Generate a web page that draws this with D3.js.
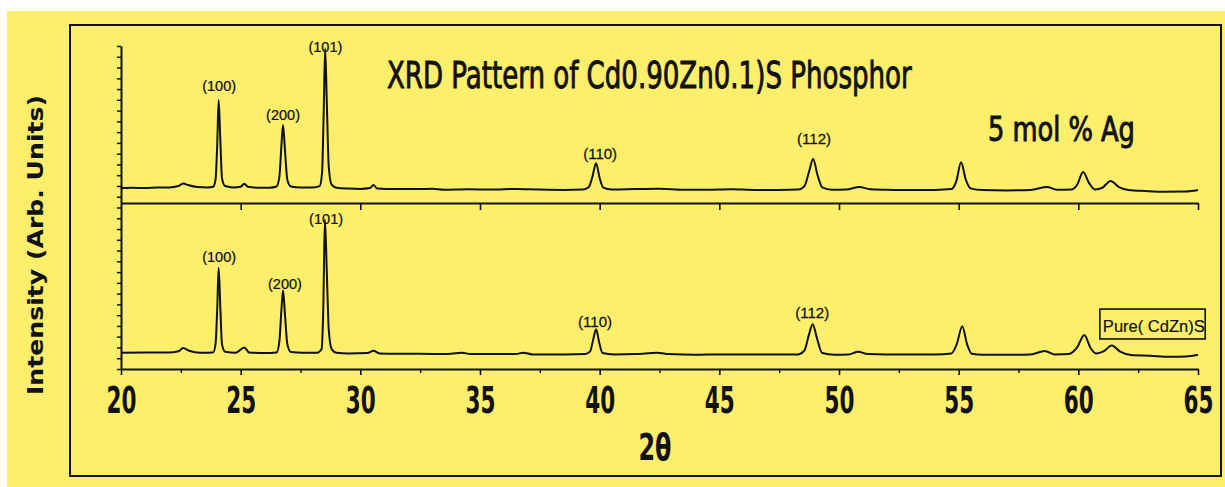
<!DOCTYPE html>
<html><head><meta charset="utf-8">
<script src="https://cdn.jsdelivr.net/npm/d3@7"></script>
<style>html,body{margin:0;padding:0;background:#fff;overflow:hidden}svg{display:block}</style>
</head><body>
<svg id="chart" width="1225" height="487"></svg>
<script>
// ---- data ----
const xTickValues = [20, 25, 30, 35, 40, 45, 50, 55, 60, 65];
const xMinorTickValues = [22.5, 27.5, 32.5, 37.5, 42.5, 47.5, 52.5, 57.5, 62.5];
const titleText = "XRD Pattern of Cd0.90Zn0.1)S Phosphor";
const agLabel = "5 mol % Ag";
const pureLabel = "Pure( CdZn)S";
const xLabel = "2\u03b8";
const yLabel = "Intensity (Arb. Units)";

// 5 mol % Ag doped pattern (top): [2theta, intensity]
const agPattern = [
[20.0,9.0],[20.5,9.2],[21.0,9.0],[21.5,9.3],[22.0,9.4],[22.4,10.2],[22.6,11.8],[22.8,10.8],[23.2,9.6],[23.6,9.4],
[23.85,9.8],[23.95,14],[24.02,35],[24.08,62],[24.15,38],[24.22,15],[24.35,10.2],[24.7,9.4],[25.0,9.8],[25.15,11.6],
[25.3,9.8],[25.8,9.2],[26.2,9.2],[26.5,9.9],[26.62,16],[26.7,34],[26.77,47],[26.85,32],[26.95,14],[27.1,9.9],
[27.5,9.3],[28.0,9.4],[28.3,10.2],[28.4,18],[28.47,55],[28.53,93],[28.6,60],[28.68,22],[28.8,11],[29.0,9.2],
[29.5,8.7],[30.0,8.5],[30.4,9.0],[30.55,10.8],[30.7,8.8],[31.5,8.4],[32.5,8.4],[33.0,8.6],[33.5,8.0],[34.5,8.3],
[35.5,8.1],[36.5,8.5],[37.5,8.1],[38.5,7.9],[39.3,8.1],[39.55,9.6],[39.7,16],[39.85,24],[40.0,15],[40.15,9.3],
[40.5,8.2],[41.5,8.4],[42.5,8.6],[43.5,8.0],[44.5,8.0],[45.5,8.3],[46.5,7.9],[47.5,7.9],[48.3,8.1],[48.55,10],
[48.75,19],[48.92,26.5],[49.1,17],[49.3,9.4],[49.7,8.0],[50.3,8.1],[50.85,9.6],[51.3,8.3],[52.0,8.0],[53.0,7.8],
[54.0,7.9],[54.7,8.4],[54.9,13],[55.1,24.5],[55.3,14],[55.5,8.8],[56.0,7.8],[57.0,7.6],[58.0,7.9],[58.7,9.6],
[59.1,8.0],[59.7,8.1],[59.95,11],[60.2,18.7],[60.45,12],[60.7,8.2],[61.0,9.2],[61.35,13.3],[61.7,9.6],[62.1,7.8],
[62.8,7.2],[63.5,6.8],[64.5,6.9],[65.0,7.8]
];

// Pure (CdZn)S pattern (bottom): [2theta, intensity]
const purePattern = [
[20.0,9.8],[21.0,9.9],[22.0,9.9],[22.4,10.7],[22.6,12.6],[22.85,11],[23.3,9.8],[23.85,10],[23.95,15],[24.02,36],
[24.08,61],[24.15,37],[24.22,15],[24.35,10.4],[24.8,9.8],[25.15,13],[25.35,10],[26.0,9.6],[26.5,10],[26.62,17],
[26.7,35],[26.77,47.5],[26.85,33],[26.95,15],[27.1,10.2],[27.6,9.8],[28.2,9.8],[28.38,12],[28.45,35],[28.52,90],
[28.6,58],[28.68,24],[28.8,12],[29.0,9.8],[29.5,9.4],[30.3,9.6],[30.55,11],[30.8,9.4],[31.5,9.2],[32.5,9.2],
[33.5,9.0],[34.25,9.8],[34.6,9.0],[35.5,9.0],[36.5,9.0],[36.8,9.8],[37.2,8.8],[38.5,8.8],[39.4,9.0],[39.6,10.6],
[39.72,17],[39.85,24],[39.98,16],[40.12,9.6],[40.6,8.8],[41.5,9.0],[42.4,9.8],[42.9,9.0],[44.0,8.6],[45.0,8.8],
[46.5,8.8],[47.5,8.8],[48.3,8.8],[48.55,11],[48.75,21],[48.9,27],[49.07,19],[49.3,9.6],[49.8,8.6],[50.4,8.8],
[50.8,10.4],[51.2,9.0],[52.0,8.8],[53.0,8.8],[54.0,8.8],[54.7,9.4],[54.92,15],[55.15,25.8],[55.35,15],[55.55,9.2],
[56.0,8.6],[57.0,8.6],[58.0,8.8],[58.6,10.8],[59.0,8.8],[59.6,9.0],[59.95,13],[60.25,20.5],[60.5,13],[60.75,9.4],
[61.05,10.6],[61.4,14.2],[61.75,10.4],[62.2,8.4],[63.0,8.0],[63.8,7.4],[64.5,7.6],[65.0,8.6]
];

// hkl labels: text, 2theta position, intensity of label baseline
const hklNames = ["(100)", "(200)", "(101)", "(110)", "(112)"];
const hklTopX = [24.10, 26.77, 28.54, 40.02, 48.96];
const hklTopY = [67.5, 50, 91, 26.5, 35.5];
const hklBottomX = [24.10, 26.85, 28.57, 39.81, 48.88];
const hklBottomY = [64.5, 48.2, 87.3, 25.3, 30.7];

// ---- drawing ----
const svg = d3.select("#chart");
const ink = "#111";
const narrow = "'Liberation Sans Narrow','DejaVu Sans Condensed','Liberation Sans',sans-serif";

svg.append("rect").attr("x",7).attr("y",11).attr("width",1218).attr("height",476).attr("fill","#fdee6b");
svg.append("rect").attr("x",70).attr("y",25).attr("width",1151).attr("height",451)
  .attr("fill","none").attr("stroke",ink).attr("stroke-width",2);

const x = d3.scaleLinear().domain([20,65]).range([121,1198]);
const yBottom = d3.scaleLinear().domain([0,100]).range([369,203]);
const yTop = d3.scaleLinear().domain([0,100]).range([203,37]);
const yAxisScale = d3.scaleLinear().domain([0,300]).range([369,46]);

// squeeze a text horizontally to a target width around its anchor
function squeeze(sel, w) {
  sel.each(function() {
    const n = this, L = n.getComputedTextLength();
    if (L > 0) {
      const s = w / L, ax = +n.getAttribute("x") || 0;
      d3.select(n).attr("transform", `translate(${ax},0) scale(${s},1) translate(${-ax},0)`);
    }
  });
}

// left axis with minor ticks
const gy = svg.append("g").attr("transform","translate(121,0)")
  .call(d3.axisLeft(yAxisScale).ticks(30).tickSize(4).tickFormat("").tickSizeOuter(0));
gy.select(".domain").attr("stroke",ink).attr("stroke-width",2);
gy.selectAll(".tick line").attr("stroke",ink).attr("stroke-width",1.5);

// bottom axis
const gx = svg.append("g").attr("transform","translate(0,369)")
  .call(d3.axisBottom(x).tickValues(xTickValues).tickSize(6).tickSizeOuter(0));
gx.select(".domain").attr("stroke",ink).attr("stroke-width",2);
gx.selectAll(".tick line").attr("stroke",ink).attr("stroke-width",1.6);
gx.selectAll(".tick text").attr("x",0).attr("y",44).attr("dy",0)
  .attr("font-family",narrow).attr("font-weight","bold").attr("font-size",38)
  .attr("fill",ink).call(squeeze, 30);
const gxm = svg.append("g").attr("transform","translate(0,369)")
  .call(d3.axisBottom(x).tickValues(xMinorTickValues).tickSize(4).tickFormat("").tickSizeOuter(0));
gxm.select(".domain").remove();
gxm.selectAll(".tick line").attr("stroke",ink).attr("stroke-width",1.4);

// divider axis
const gd = svg.append("g").attr("transform","translate(0,203)")
  .call(d3.axisBottom(x).tickValues(xTickValues.slice(1)).tickSize(7).tickFormat("").tickSizeOuter(0));
gd.select(".domain").attr("stroke",ink).attr("stroke-width",2);
gd.selectAll(".tick line").attr("stroke",ink).attr("stroke-width",1.6);

// patterns
const lineTop = d3.line().x(d=>x(d[0])).y(d=>yTop(d[1])).curve(d3.curveMonotoneX);
const lineBottom = d3.line().x(d=>x(d[0])).y(d=>yBottom(d[1])).curve(d3.curveMonotoneX);
svg.append("path").datum(agPattern).attr("d",lineTop).attr("fill","none").attr("stroke",ink).attr("stroke-width",2).attr("stroke-linejoin","round");
svg.append("path").datum(purePattern).attr("d",lineBottom).attr("fill","none").attr("stroke",ink).attr("stroke-width",2).attr("stroke-linejoin","round");

// hkl labels
hklNames.forEach((t,i)=>{
  svg.append("text").attr("x",x(hklTopX[i])).attr("y",yTop(hklTopY[i])).attr("text-anchor","middle")
    .attr("font-family","'Liberation Sans',Arial,sans-serif").attr("font-size",15).attr("fill",ink)
    .attr("stroke",ink).attr("stroke-width",0.25).text(t).call(squeeze, 34);
  svg.append("text").attr("x",x(hklBottomX[i])).attr("y",yBottom(hklBottomY[i])).attr("text-anchor","middle")
    .attr("font-family","'Liberation Sans',Arial,sans-serif").attr("font-size",15).attr("fill",ink)
    .attr("stroke",ink).attr("stroke-width",0.25).text(t).call(squeeze, 34);
});

// legend box
const lbx0 = x(60.9), lbx1 = x(65.3), lby0 = yBottom(36.1), lby1 = yBottom(18.1);
svg.append("rect").attr("x",lbx0).attr("y",lby0).attr("width",lbx1-lbx0).attr("height",lby1-lby0)
  .attr("fill","none").attr("stroke",ink).attr("stroke-width",1.6);
svg.append("text").attr("x",lbx0+3).attr("y",lby0+23).attr("font-family","'Liberation Sans',Arial,sans-serif")
  .attr("font-size",17).attr("fill",ink).attr("stroke",ink).attr("stroke-width",0.2)
  .text(pureLabel).call(squeeze, 102);

// title and annotations
svg.append("text").attr("x",387).attr("y",88).attr("font-family",narrow).attr("font-size",38)
  .attr("fill",ink).attr("stroke",ink).attr("stroke-width",0.9)
  .text(titleText).call(squeeze, 525);
svg.append("text").attr("x",988).attr("y",141).attr("font-family",narrow).attr("font-size",33)
  .attr("fill",ink).attr("stroke",ink).attr("stroke-width",0.9)
  .text(agLabel).call(squeeze, 147);

// axis titles
svg.append("text").attr("x",655).attr("y",460).attr("text-anchor","middle").attr("font-family",narrow)
  .attr("font-weight","bold").attr("font-size",38).attr("fill",ink)
  .text(xLabel).call(squeeze, 33);
svg.append("text").attr("transform","translate(43,245) rotate(-90)").attr("text-anchor","middle")
  .attr("font-family","'DejaVu Sans',Verdana,sans-serif").attr("font-weight","bold").attr("font-size",21)
  .attr("fill",ink).attr("textLength",300).attr("lengthAdjust","spacingAndGlyphs").text(yLabel);
</script>
</body></html>
